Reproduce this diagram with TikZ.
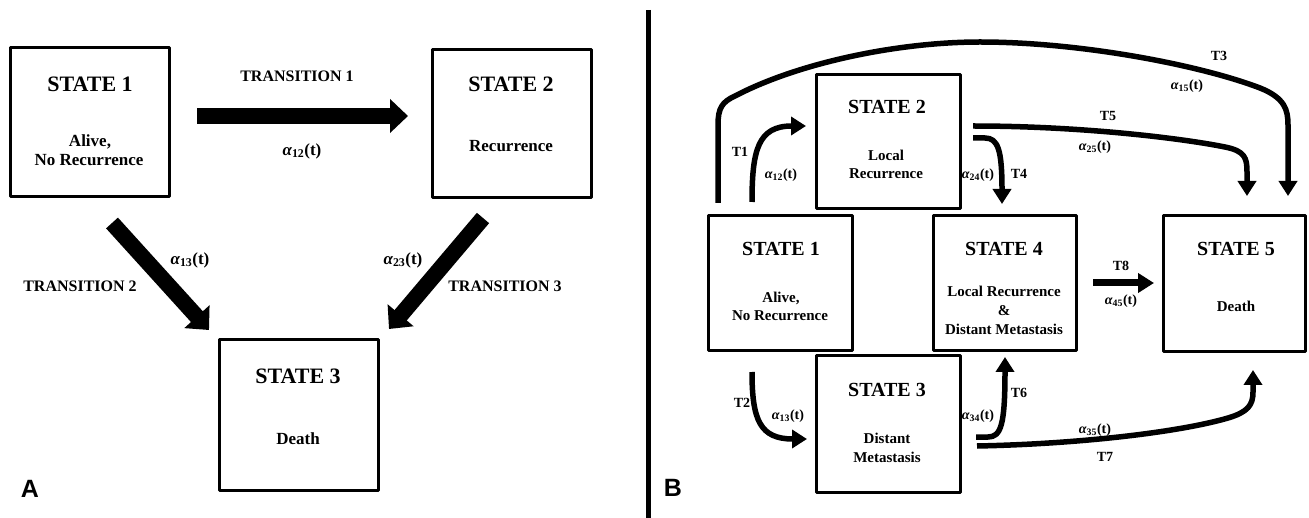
\documentclass[tikz,border=0pt]{standalone}
\usepackage{fontspec}
\setmainfont{Liberation Serif}
\newfontfamily\panelfont{Liberation Sans}
\usetikzlibrary{arrows.meta}
\newcommand{\alf}[1]{{\itshape α}\textsubscript{#1}(t)}
\begin{document}
\begin{tikzpicture}[x=1pt,y=-1pt,
  statebox/.style={draw, line width=3pt, inner sep=0pt},
  txt/.style={inner sep=0pt, text height=0.66em, text depth=0pt, align=center},
  ttlA/.style={txt, font=\fontsize{22}{24}\selectfont\bfseries},
  bodyA/.style={txt, font=\fontsize{17}{19}\selectfont\bfseries},
  trA/.style={txt, font=\fontsize{16}{18}\selectfont\bfseries},
  ttlB/.style={txt, font=\fontsize{20}{22}\selectfont\bfseries},
  bodyB/.style={txt, font=\fontsize{15}{17}\selectfont\bfseries},
  lblB/.style={txt, font=\fontsize{14}{16}\selectfont\bfseries},
  panel/.style={txt, font=\fontsize{25}{27}\selectfont\panelfont\bfseries},
  bigarrow/.style={line width=16pt, -{Triangle[length=18pt,width=33pt]}},
  curvarrow/.style={line width=5.5pt, -{Triangle[length=15pt,width=18pt]}},
  line join=round]
\useasboundingbox (0,0) rectangle (1309,518);

% ---------------- Panel A ----------------
\node[statebox, minimum width=159, minimum height=149] (a1) at (89.5,122.5) {};
\node[statebox, minimum width=159, minimum height=148] (a2) at (511.5,124) {};
\node[statebox, minimum width=159, minimum height=150] (a3) at (298.5,415) {};

\node[ttlA] (a1t) at (90,88) {STATE 1};
\node[bodyA] (a1b1) at (90,143) {Alive,};
\node[bodyA] (a1b2) at (89,162) {No Recurrence};
\node[ttlA] (a2t) at (511,88) {STATE 2};
\node[bodyA] (a2b) at (511,148) {Recurrence};
\node[ttlA] (a3t) at (298,380) {STATE 3};
\node[bodyA] (a3b) at (298,441) {Death};

\coordinate (t1s) at (197,116); \coordinate (t1e) at (408,116);
\coordinate (t2s) at (112,223); \coordinate (t2e) at (209,330);
\coordinate (t3s) at (483,218); \coordinate (t3e) at (389,329);
\draw[bigarrow] (t1s) -- (t1e);
\draw[bigarrow] (t2s) -- (t2e);
\draw[bigarrow] (t3s) -- (t3e);

\node[trA] (tr1) at (297,78) {TRANSITION 1};
\node[bodyA] (al12) at (302,152) {\alf{12}};
\node[trA] (tr2) at (80,288) {TRANSITION 2};
\node[bodyA] (al13) at (190,261) {\alf{13}};
\node[trA] (tr3) at (505,288) {TRANSITION 3};
\node[bodyA] (al23) at (403,261) {\alf{23}};
\node[panel] (pa) at (30,494) {A};

% divider
\coordinate (dtop) at (648,10); \coordinate (dbot) at (648,518);
\draw[line width=5pt] (dtop) -- (dbot);

% ---------------- Panel B ----------------
\node[statebox, minimum width=144, minimum height=135] (b1) at (780,283.5) {};
\node[statebox, minimum width=144, minimum height=134] (b2) at (888,142) {};
\node[statebox, minimum width=144, minimum height=136] (b3) at (888,424) {};
\node[statebox, minimum width=143, minimum height=135] (b4) at (1004.5,283.5) {};
\node[statebox, minimum width=142, minimum height=136] (b5) at (1234,284) {};

\node[ttlB] (b1t) at (781,252) {STATE 1};
\node[bodyB] (b1a) at (781,299) {Alive,};
\node[bodyB] (b1b) at (780,317) {No Recurrence};
\node[ttlB] (b2t) at (887,110) {STATE 2};
\node[bodyB] (b2a) at (886,157) {Local};
\node[bodyB] (b2b) at (886,175) {Recurrence};
\node[ttlB] (b3t) at (887,393) {STATE 3};
\node[bodyB] (b3a) at (887,440) {Distant};
\node[bodyB] (b3b) at (887,459) {Metastasis};
\node[ttlB] (b4t) at (1004,252) {STATE 4};
\node[bodyB] (b4a) at (1004,293) {Local Recurrence};
\node[bodyB] (b4b) at (1004,312) {\&};
\node[bodyB] (b4c) at (1004,331) {Distant Metastasis};
\node[ttlB] (b5t) at (1236,252) {STATE 5};
\node[bodyB] (b5a) at (1236,308) {Death};

% T3 (1 -> 5, over the top)
\coordinate (T3s) at (718,203); \coordinate (T3e) at (1288,196);
\draw[curvarrow] (T3s) -- (718,125) .. controls (718,108) and (722,102) .. (735,96)
  .. controls (800,62) and (900,42) .. (980,42)
  .. controls (1080,42) and (1200,65) .. (1260,88)
  .. controls (1285,98) and (1288,110) .. (1288,125) -- (T3e);
% T1 (1 -> 2)
\coordinate (T1s) at (752,202); \coordinate (T1e) at (806,126);
\draw[curvarrow] (T1s) .. controls (752,150) and (758,126) .. (T1e);
% T2 (1 -> 3)
\coordinate (T2s) at (752,372); \coordinate (T2e) at (807,439);
\draw[curvarrow] (T2s) .. controls (752,420) and (760,439) .. (T2e);
% T4 (2 -> 4)
\coordinate (T4s) at (973,138); \coordinate (T4e) at (1002,204);
\draw[curvarrow] (T4s) -- (985,138) .. controls (998,138) and (1002,150) .. (T4e);
% T5 (2 -> 5)
\coordinate (T5s) at (973,126); \coordinate (T5e) at (1247,196);
\draw[curvarrow] (T5s) .. controls (1080,126) and (1180,138) .. (1225,147)
  .. controls (1245,151) and (1247,158) .. (1247,172) -- (T5e);
% T6 (3 -> 4)
\coordinate (T6s) at (976,437); \coordinate (T6e) at (1005,357);
\draw[curvarrow] (T6s) -- (988,437) .. controls (1001,437) and (1005,425) .. (T6e);
% T7 (3 -> 5)
\coordinate (T7s) at (977,446); \coordinate (T7e) at (1253,370);
\draw[curvarrow] (T7s) .. controls (1080,444) and (1180,432) .. (1228,418)
  .. controls (1248,412) and (1253,405) .. (1253,392) -- (T7e);
% T8 (4 -> 5)
\coordinate (T8s) at (1093,283); \coordinate (T8e) at (1154,283);
\draw[line width=7pt, -{Triangle[length=16pt,width=19pt]}] (T8s) -- (T8e);

% labels
\node[lblB] (l1) at (740,153) {T1};
\node[lblB] (l1a) at (781,175) {\alf{12}};
\node[lblB] (l2) at (742,404) {T2};
\node[lblB] (l2a) at (788,416) {\alf{13}};
\node[lblB] (l3) at (1219,57) {T3};
\node[lblB] (l3a) at (1187,86) {\alf{15}};
\node[lblB] (l4) at (1019,175) {T4};
\node[lblB] (l4a) at (978,175) {\alf{24}};
\node[lblB] (l5) at (1108,117) {T5};
\node[lblB] (l5a) at (1095,147) {\alf{25}};
\node[lblB] (l6) at (1019,394) {T6};
\node[lblB] (l6a) at (978,416) {\alf{34}};
\node[lblB] (l7) at (1105,458) {T7};
\node[lblB] (l7a) at (1095,430) {\alf{35}};
\node[lblB] (l8) at (1121,267) {T8};
\node[lblB] (l8a) at (1121,301) {\alf{45}};
\node[panel] (pb) at (673,493) {B};
\end{tikzpicture}
\end{document}
